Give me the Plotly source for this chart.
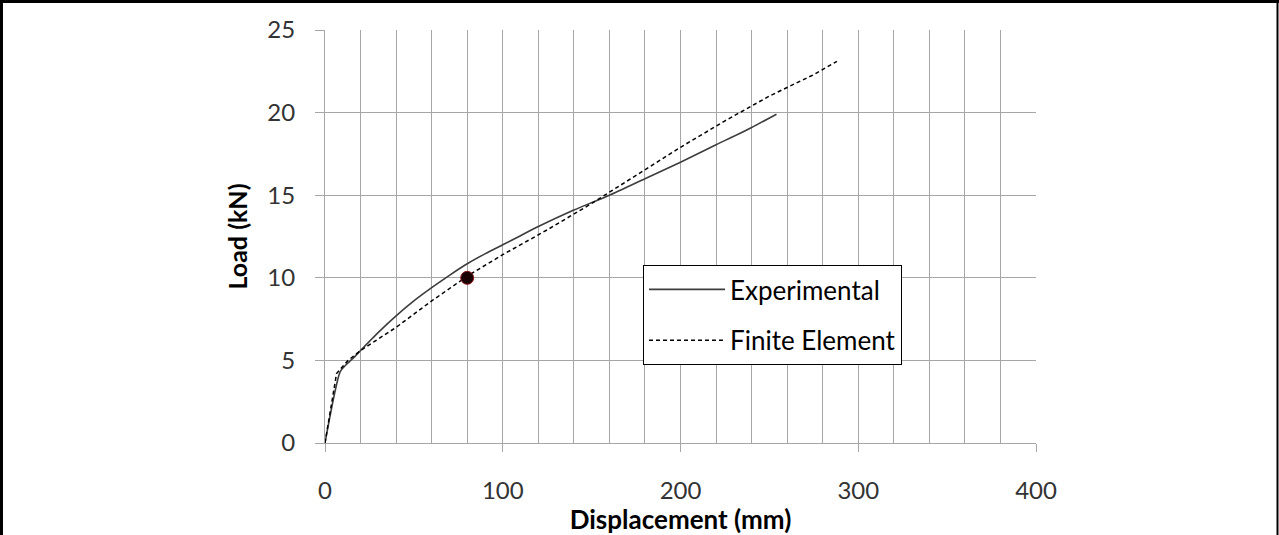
import plotly.graph_objects as go

exp_x = [0, 8.5, 12, 16, 20, 25, 30, 40, 50, 60, 70, 80, 90, 100, 110, 120, 140, 160, 180, 200, 220, 240, 254]
exp_y = [0, 4.3, 4.75, 5.15, 5.6, 6.15, 6.7, 7.7, 8.6, 9.4, 10.15, 10.85, 11.45, 12.0, 12.55, 13.1, 14.1, 15.0, 16.0, 17.0, 18.05, 19.1, 19.9]

fe_x = [0, 6.5, 13, 20, 40, 60, 80, 100, 125, 150, 175, 200, 225, 250, 275, 288]
fe_y = [0, 4.2, 5.0, 5.6, 7.0, 8.6, 10.1, 11.4, 12.9, 14.5, 16.2, 17.9, 19.5, 21.0, 22.3, 23.1]

pt_x = [80]
pt_y = [10]

x_ticks = [0, 100, 200, 300, 400]
y_ticks = [0, 5, 10, 15, 20, 25]

FONT = "Lato"
W, H = 1279, 535
ML, MR, MT, MB = 325, 243, 30, 92
PW, PH = W - ML - MR, H - MT - MB

def px(xpix):
    return (xpix - ML) / PW

def py(ypix):
    return 1 - (ypix - MT) / PH

fig = go.Figure()
fig.add_trace(go.Scatter(x=exp_x, y=exp_y, mode="lines", name="Experimental",
                         legendgroup="a", line_shape="spline",
                         line=dict(color="#3d3d3d", width=1.6, smoothing=0.6)))
fig.add_trace(go.Scatter(x=fe_x, y=fe_y, mode="lines", name="Finite Element",
                         legendgroup="b",
                         line=dict(color="#000000", width=1.5, dash="4px,3px")))
fig.add_trace(go.Scatter(x=pt_x, y=pt_y, mode="markers", showlegend=False,
                         marker=dict(size=13, color="#1a0000",
                                     line=dict(color="#8a1a1a", width=1))))

grid = "#a6a6a6"
fig.update_xaxes(range=[0, 400], tickvals=x_ticks,
                 showgrid=False, showline=True, linecolor=grid, linewidth=1,
                 ticks="outside", ticklen=8, tickcolor=grid, tickwidth=1,
                 minor=dict(dtick=20, showgrid=True, gridcolor=grid, gridwidth=1),
                 zeroline=False, ticklabelstandoff=18,
                 tickfont=dict(family=FONT, size=24, color="#333333"),
                 title=dict(text="<b>Displacement (mm)</b>", standoff=0,
                            font=dict(family=FONT, size=26, color="#000000")))
fig.update_yaxes(range=[0, 25], tickvals=y_ticks,
                 showgrid=True, gridcolor=grid, gridwidth=1,
                 showline=True, linecolor=grid, linewidth=1,
                 ticks="outside", ticklen=9, tickcolor=grid, tickwidth=1,
                 zeroline=False, ticklabelstandoff=15,
                 tickfont=dict(family=FONT, size=24, color="#333333"),
                 title=dict(text="<b>Load (kN)</b>", standoff=12,
                            font=dict(family=FONT, size=25, color="#000000")))

# outer frame around the picture
frame = dict(type="line", xref="paper", yref="paper", line=dict(color="black"))
fig.add_shape(**frame, x0=px(1.5), x1=px(1.5), y0=py(0), y1=py(H))
fig.layout.shapes[-1].line.width = 3
fig.add_shape(**frame, x0=px(0), x1=px(W), y0=py(1.5), y1=py(1.5))
fig.layout.shapes[-1].line.width = 3
fig.add_shape(**frame, x0=px(1277.5), x1=px(1277.5), y0=py(0), y1=py(H))
fig.layout.shapes[-1].line.width = 2

fig.update_layout(
    width=W, height=H,
    margin=dict(l=ML, r=MR, t=MT, b=MB),
    paper_bgcolor="white", plot_bgcolor="white",
    showlegend=True,
    legend=dict(x=px(643), y=py(265), xanchor="left", yanchor="top",
                bgcolor="white", bordercolor="black", borderwidth=1,
                font=dict(family=FONT, size=26, color="#000000"),
                itemwidth=76, tracegroupgap=14, traceorder="grouped"),
)

fig.write_html("out.html")
